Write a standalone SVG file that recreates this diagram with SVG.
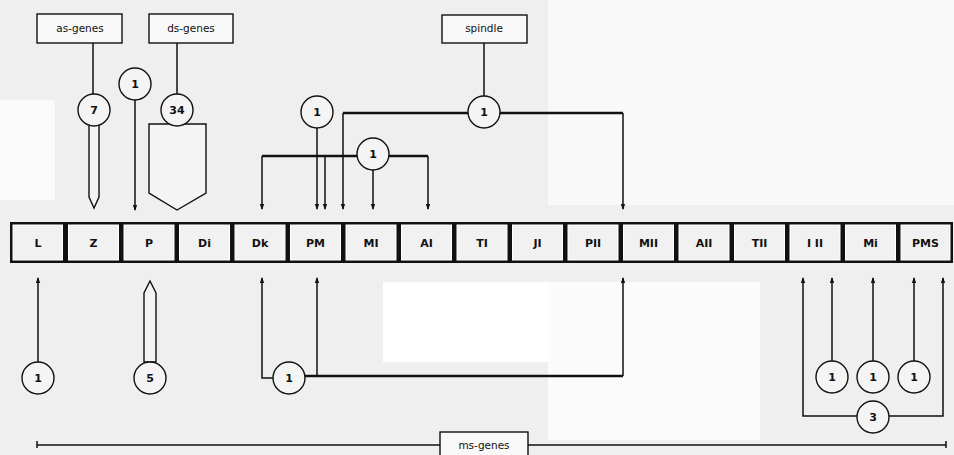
<svg xmlns="http://www.w3.org/2000/svg" width="954" height="455" viewBox="0 0 954 455">
<style>
.ln{fill:none;stroke:#111;stroke-width:1.5}
.th{fill:none;stroke:#111;stroke-width:2.4}
.ar{marker-end:url(#ah)}
.c{fill:#f4f4f4;stroke:#111;stroke-width:1.4}
.ct{font-family:"DejaVu Sans",sans-serif;font-size:11px;font-weight:bold;fill:#111;text-anchor:middle}
.bx{fill:#f8f8f8;stroke:#111;stroke-width:1.4}
.bt{font-family:"DejaVu Sans",sans-serif;font-size:10.5px;fill:#111;text-anchor:middle}
.cell{fill:#f1f1f1;stroke:#fff;stroke-width:1}
.lt{font-family:"DejaVu Sans",sans-serif;font-size:11px;font-weight:bold;fill:#111;text-anchor:middle}
.hol{fill:#f4f4f4;stroke:#111;stroke-width:1.4;stroke-linejoin:miter}
</style>
<defs>
<marker id="ah" markerWidth="6" markerHeight="8" refX="5" refY="3" orient="auto" markerUnits="userSpaceOnUse"><path d="M0,0.8 L6,3 L0,5.2 Z" fill="#111"/></marker>
</defs>
<rect x="0" y="0" width="954" height="455" fill="#efefef"/>
<rect x="548" y="0" width="406" height="205" fill="#f9f9f9"/>
<rect x="0" y="100" width="55" height="100" fill="#fafafa"/>
<rect x="383" y="282" width="165" height="80" fill="#ffffff"/>
<rect x="548" y="282" width="212" height="158" fill="#fbfbfb"/>

<g id="stage-bar">
<rect x="10" y="222" width="943" height="41" fill="#111"/>
<g id="cells">
<rect class="cell" x="13" y="225" width="49.5" height="35"/>
<rect class="cell" x="68.5" y="225" width="50" height="35"/>
<rect class="cell" x="124" y="225" width="50" height="35"/>
<rect class="cell" x="179.5" y="225" width="50" height="35"/>
<rect class="cell" x="235" y="225" width="50" height="35"/>
<rect class="cell" x="290.5" y="225" width="50" height="35"/>
<rect class="cell" x="346" y="225" width="50" height="35"/>
<rect class="cell" x="401.5" y="225" width="50" height="35"/>
<rect class="cell" x="457" y="225" width="50" height="35"/>
<rect class="cell" x="512.5" y="225" width="50" height="35"/>
<rect class="cell" x="568" y="225" width="50" height="35"/>
<rect class="cell" x="623.5" y="225" width="50" height="35"/>
<rect class="cell" x="679" y="225" width="50" height="35"/>
<rect class="cell" x="734.5" y="225" width="50" height="35"/>
<rect class="cell" x="790" y="225" width="50" height="35"/>
<rect class="cell" x="845.5" y="225" width="50" height="35"/>
<rect class="cell" x="901" y="225" width="49" height="35"/>
</g>
<g id="labels">
<text class="lt" x="38" y="247">L</text>
<text class="lt" x="93.5" y="247">Z</text>
<text class="lt" x="149" y="247">P</text>
<text class="lt" x="204.5" y="247">Di</text>
<text class="lt" x="260" y="247">Dk</text>
<text class="lt" x="315.5" y="247">PM</text>
<text class="lt" x="371" y="247">MI</text>
<text class="lt" x="426.5" y="247">AI</text>
<text class="lt" x="482" y="247">TI</text>
<text class="lt" x="537.5" y="247">JI</text>
<text class="lt" x="593" y="247">PII</text>
<text class="lt" x="648.5" y="247">MII</text>
<text class="lt" x="704" y="247">AII</text>
<text class="lt" x="759.5" y="247">TII</text>
<text class="lt" x="815" y="247">I II</text>
<text class="lt" x="870.5" y="247">Mi</text>
<text class="lt" x="925.5" y="247">PMS</text>
</g>
</g>

<g id="connectors">
<!-- top -->
<line class="ln" x1="93" y1="43" x2="93" y2="95"/>
<line class="ln" x1="177" y1="43" x2="177" y2="95"/>
<line class="ln ar" x1="135" y1="100" x2="135" y2="210"/>
<line class="ln ar" x1="317" y1="128" x2="317" y2="209"/>
<path class="th" d="M262,156 L428,156"/>
<path class="ln ar" d="M262,156 L262,209"/>
<path class="ln ar" d="M325,156 L325,209"/>
<path class="ln ar" d="M373,170 L373,209"/>
<path class="ln ar" d="M428,156 L428,209"/>
<line class="ln" x1="484" y1="43" x2="484" y2="97"/>
<path class="th" d="M343,113 L623,113"/>
<path class="ln ar" d="M343,113 L343,209"/>
<path class="ln ar" d="M623,113 L623,209"/>
<!-- bottom -->
<path class="ln ar" d="M38,362 L38,278"/>
<path class="ln ar" d="M273,378 L262,378 L262,278"/>
<path class="th" d="M305,376 L623,376"/>
<path class="ln ar" d="M317,376 L317,278"/>
<path class="ln ar" d="M623,376 L623,278"/>
<path class="ln ar" d="M832,361 L832,278"/>
<path class="ln ar" d="M873,361 L873,278"/>
<path class="ln ar" d="M914,361 L914,278"/>
<path class="ln ar" d="M857,416 L803,416 L803,278"/>
<path class="ln ar" d="M889,416 L943,416 L943,278"/>
<!-- ms-genes line -->
<line class="ln" x1="37" y1="445" x2="946" y2="445"/>
<line class="ln" x1="37" y1="441" x2="37" y2="448"/>
<line class="ln" x1="946" y1="441" x2="946" y2="448"/>
</g>

<g id="as-genes">
<rect class="bx" x="37" y="14" width="85" height="29"/>
<text class="bt" x="80" y="32">as-genes</text>
</g>
<g id="ds-genes">
<rect class="bx" x="149" y="14" width="84" height="29"/>
<text class="bt" x="191" y="32">ds-genes</text>
</g>
<g id="spindle">
<rect class="bx" x="442" y="15" width="85" height="28"/>
<text class="bt" x="484" y="32">spindle</text>
</g>
<g id="ms-genes">
<rect class="bx" x="440" y="432" width="88" height="26"/>
<text class="bt" x="484" y="449">ms-genes</text>
</g>

<g id="as-arrow"><polygon class="hol" points="89,124 89,197 94,208 99,197 99,124"/></g>
<g id="n7"><circle class="c" cx="94" cy="110" r="16"/><text class="ct" x="94" y="114">7</text></g>
<g id="n1-p-top"><circle class="c" cx="135" cy="84" r="16"/><text class="ct" x="135" y="88">1</text></g>
<g id="ds-shape"><polygon class="hol" points="149,124 206,124 206,193 177,210 149,193"/></g>
<g id="n34"><circle class="c" cx="177" cy="110" r="16"/><text class="ct" x="177" y="114">34</text></g>
<g id="n1-pm"><circle class="c" cx="317" cy="112" r="16"/><text class="ct" x="317" y="116">1</text></g>
<g id="n1-mid"><circle class="c" cx="373" cy="154" r="16"/><text class="ct" x="373" y="158">1</text></g>
<g id="n1-spindle"><circle class="c" cx="484" cy="112" r="16"/><text class="ct" x="484" y="116">1</text></g>

<g id="n1-l"><circle class="c" cx="38" cy="378" r="16"/><text class="ct" x="38" y="382">1</text></g>
<g id="p-arrow"><polygon class="hol" points="144,362 144,293 150,281 156,293 156,362"/></g>
<g id="n5"><circle class="c" cx="150" cy="378" r="16"/><text class="ct" x="150" y="382">5</text></g>
<g id="n1-dk"><circle class="c" cx="289" cy="378" r="16"/><text class="ct" x="289" y="382">1</text></g>
<g id="n1-r1"><circle class="c" cx="832" cy="377" r="16"/><text class="ct" x="832" y="381">1</text></g>
<g id="n1-r2"><circle class="c" cx="873" cy="377" r="16"/><text class="ct" x="873" y="381">1</text></g>
<g id="n1-r3"><circle class="c" cx="914" cy="377" r="16"/><text class="ct" x="914" y="381">1</text></g>
<g id="n3"><circle class="c" cx="873" cy="417" r="16"/><text class="ct" x="873" y="421">3</text></g>
</svg>
